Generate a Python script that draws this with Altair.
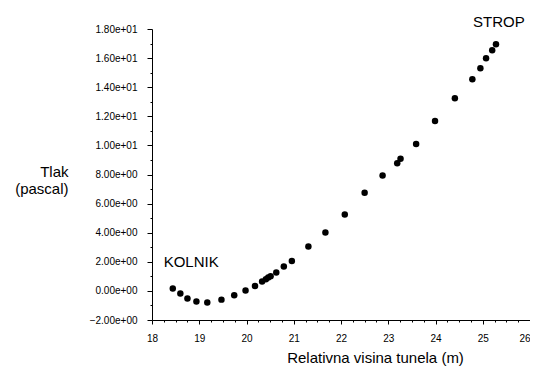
import altair as alt
import pandas as pd

# Data
height_m = [18.44, 18.60, 18.75, 18.94, 19.17, 19.47, 19.74, 19.98, 20.18, 20.33,
            20.41, 20.46, 20.51, 20.63, 20.79, 20.96, 21.31, 21.67, 22.08, 22.50,
            22.88, 23.19, 23.26, 23.59, 23.99, 24.41, 24.78, 24.95, 25.07, 25.20, 25.28]
pressure = [0.16, -0.18, -0.53, -0.73, -0.80, -0.60, -0.30, 0.02, 0.34, 0.64,
            0.80, 0.92, 1.00, 1.26, 1.67, 2.06, 3.05, 4.01, 5.25, 6.74,
            7.93, 8.77, 9.09, 10.10, 11.68, 13.24, 14.55, 15.31, 15.99, 16.54, 16.95]

label_text = ["STROP", "KOLNIK"]
label_x = [25.34, 18.83]
label_y = [18.49, 2.0]

x_ticks = [18 + i * 0.25 for i in range(33)]
y_ticks = list(range(-2, 19))

FONT = "Liberation Sans"

df = pd.DataFrame({"x": height_m, "y": pressure})
lab = pd.DataFrame({"t": label_text, "x": label_x, "y": label_y})

y_label_expr = (
    "datum.value % 2 != 0 ? '' : "
    "(datum.value == 0 ? '0.00e+00' : "
    "format(datum.value / pow(10, floor(log(abs(datum.value)) / LN10)), '.2f') + 'e' + "
    "(floor(log(abs(datum.value)) / LN10) < 0 ? '-' : '+') + "
    "(abs(floor(log(abs(datum.value)) / LN10)) < 10 ? '0' : '') + "
    "abs(floor(log(abs(datum.value)) / LN10)))"
)

x_scale = alt.Scale(domain=[18, 26], nice=False, zero=False)
y_scale = alt.Scale(domain=[-2, 18], nice=False, zero=False)

x_axis = alt.Axis(
    values=x_ticks,
    labelExpr="datum.value % 1 != 0 ? '' : format(datum.value, 'd')",
    tickSize={"condition": {"test": "datum.value % 1 == 0", "value": 4}, "value": 2},
    labelAlign={"condition": {"test": "datum.value >= 26", "value": "right"}, "value": "center"},
    labelPadding=9, labelOverlap=False,
    labelFont=FONT, labelFontSize=10, labelColor="#000",
    grid=False, domainColor="#000", tickColor="#000",
    title="Relativna visina tunela (m)",
    titleFont=FONT, titleFontSize=15, titleFontWeight="normal", titleColor="#000",
    titleAnchor="start", titleAlign="center", titleBaseline="alphabetic",
    titleX=223, titleY=42,
)

y_axis = alt.Axis(
    values=y_ticks,
    labelExpr=y_label_expr,
    tickSize={"condition": {"test": "datum.value % 2 == 0", "value": 5}, "value": 2},
    labelPadding=10, labelOverlap=False,
    labelFont=FONT, labelFontSize=10, labelColor="#000",
    grid=False, domainColor="#000", tickColor="#000",
    title=["Tlak", "(pascal)"],
    titleFont=FONT, titleFontSize=15, titleFontWeight="normal", titleColor="#000",
    titleAngle=0, titleAlign="right", titleBaseline="alphabetic",
    titleX=-84, titleY=147, titleLineHeight=17.5,
)

points = alt.Chart(df).mark_circle(size=42, color="#000", opacity=1).encode(
    x=alt.X("x:Q", scale=x_scale, axis=x_axis),
    y=alt.Y("y:Q", scale=y_scale, axis=y_axis),
)

labels = alt.Chart(lab).mark_text(
    font=FONT, fontSize=15, color="#000", align="center", baseline="middle", clip=False
).encode(
    x=alt.X("x:Q", scale=x_scale, axis=x_axis),
    y=alt.Y("y:Q", scale=y_scale, axis=y_axis),
    text="t:N",
)

chart = alt.layer(points, labels).properties(
    width=378, height=291,
    autosize=alt.AutoSizeParams(type="none"),
    padding={"left": 144, "top": 21, "right": 0, "bottom": 46},
    background="white",
).configure_view(stroke=None)

chart.save("out.html", embed_options={"renderer": "svg", "actions": False})
